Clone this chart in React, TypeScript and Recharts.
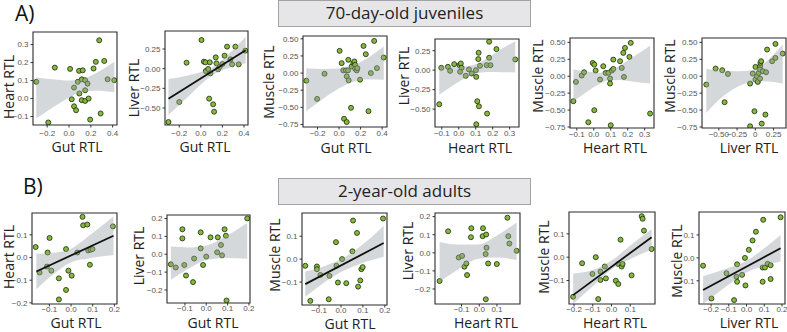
import React from 'react';
import { ComposedChart, Scatter, Area, Line, XAxis, YAxis, ReferenceArea } from 'recharts';

// ---- data: [x, y] points, [x, lo, hi] ribbons, [x, y] fit ends ----

// A) 70-day-old juveniles
const juvGutHeart = [[-0.30, 0.093], [-0.19, -0.133], [-0.13, 0.172], [0.01, 0.165], [0.025, -0.004], [0.046, 0.061], [0.046, -0.043], [0.065, -0.065], [0.08, 0.093], [0.092, 0.154], [0.095, 0.028], [0.117, 0.107], [0.126, 0.157], [0.117, -0.009], [0.148, -0.013], [0.148, 0.046], [0.148, 0.102], [0.17, 0.083], [0.18, 0.0], [0.194, -0.117], [0.225, 0.167], [0.246, 0.204], [0.277, 0.324], [0.29, -0.083], [0.323, 0.209], [0.354, 0.107], [0.415, 0.102]];
const juvGutHeartBand = [[-0.30, -0.111, 0.117], [-0.15, -0.05, 0.107], [0.0, 0.005, 0.10], [0.12, 0.036, 0.108], [0.25, 0.044, 0.142], [0.415, 0.036, 0.204]];

const juvGutLiver = [[-0.30, -0.678], [-0.2, -0.424], [-0.132, 0.076], [0.006, 0.364], [0.028, 0.089], [0.043, 0.081], [0.046, -0.03], [0.068, -0.004], [0.083, 0.081], [0.077, -0.381], [0.089, -0.059], [0.114, -0.453], [0.123, -0.547], [0.138, 0.144], [0.145, 0.068], [0.16, -0.008], [0.175, 0.025], [0.2, 0.059], [0.22, 0.165], [0.243, 0.28], [0.29, 0.055], [0.274, 0.119], [0.32, 0.28], [0.351, 0.055], [0.412, 0.229]];
const juvGutLiverBand = [[-0.30, -0.59, -0.13], [-0.12, -0.361, -0.087], [0.05, -0.142, -0.018], [0.12, -0.071, 0.029], [0.25, 0.004, 0.174], [0.415, 0.068, 0.407]];
const juvGutLiverFit = [[-0.30, -0.381], [0.415, 0.233]];

const juvGutMuscle = [[-0.304, -0.111], [-0.204, -0.377], [-0.135, -0.01], [0.005, 0.324], [0.024, 0.145], [0.039, 0.039], [0.064, 0.039], [0.083, 0.039], [0.071, -0.048], [0.089, -0.106], [0.086, 0.193], [0.117, 0.097], [0.133, 0.145], [0.142, 0.169], [0.149, 0.121], [0.149, 0.063], [0.164, 0.039], [0.17, 0.072], [0.195, -0.097], [0.227, 0.396], [0.248, 0.275], [0.295, 0.0], [0.326, 0.469], [0.351, 0.072], [0.414, 0.227], [0.111, -0.507], [0.046, -0.667], [0.071, -0.715], [0.273, -0.556]];
const juvGutMuscleBand = [[-0.305, -0.556, 0.072], [-0.15, -0.379, 0.061], [0.0, -0.223, 0.067], [0.12, -0.133, 0.107], [0.25, -0.092, 0.206], [0.415, -0.097, 0.387]];

const juvHeartLiver = [[-0.115, -0.438], [-0.103, 0.03], [-0.064, 0.043], [-0.051, -0.009], [-0.027, 0.077], [0.004, 0.064], [0.012, 0.086], [0.017, 0.03], [0.008, -0.021], [0.041, -0.073], [0.06, 0.009], [0.076, -0.043], [0.101, 0.0], [0.103, -0.086], [0.109, -0.399], [0.119, -0.464], [0.103, -0.695], [0.117, 0.223], [0.115, 0.142], [0.125, 0.056], [0.167, -0.558], [0.164, 0.064], [0.179, 0.159], [0.187, 0.064], [0.179, 0.365], [0.222, 0.27], [0.333, 0.137]];
const juvHeartLiverBand = [[-0.115, -0.315, 0.049], [-0.03, -0.191, 0.043], [0.04, -0.098, 0.048], [0.09, -0.05, 0.07], [0.17, -0.024, 0.156], [0.26, -0.026, 0.284], [0.333, -0.03, 0.37]];

const juvHeartMuscle = [[-0.12, -0.369], [-0.105, -0.084], [-0.071, 0.01], [-0.057, 0.059], [-0.032, -0.68], [-0.006, 0.197], [0.003, 0.172], [0.003, -0.502], [0.011, 0.084], [0.037, -0.049], [0.056, 0.148], [0.07, 0.049], [0.086, 0.049], [0.096, -0.034], [0.096, -0.108], [0.106, 0.084], [0.115, 0.108], [0.1, -0.724], [0.115, 0.246], [0.155, 0.222], [0.165, 0.123], [0.178, -0.01], [0.174, 0.345], [0.184, 0.419], [0.21, 0.286], [0.218, 0.493], [0.332, -0.552]];
const juvHeartMuscleBand = [[-0.12, -0.37, 0.10], [-0.04, -0.231, 0.069], [0.03, -0.119, 0.053], [0.08, -0.064, 0.066], [0.15, -0.055, 0.151], [0.24, -0.082, 0.30], [0.332, -0.108, 0.452]];

const juvLiverMuscle = [[-0.671, -0.123], [-0.544, 0.113], [-0.453, 0.089], [-0.421, -0.384], [-0.375, 0.034], [-0.071, -0.108], [-0.071, -0.739], [-0.012, -0.517], [-0.035, 0.039], [0.002, 0.138], [0.002, -0.049], [0.025, 0.0], [0.034, -0.084], [0.047, 0.049], [0.065, 0.148], [0.07, 0.197], [0.065, 0.099], [0.08, 0.222], [0.065, -0.034], [0.088, -0.70], [0.102, 0.074], [0.138, -0.567], [0.147, 0.059], [0.161, 0.394], [0.23, 0.222], [0.275, 0.271], [0.275, 0.478], [0.375, 0.335]];
const juvLiverMuscleBand = [[-0.671, -0.542, 0.108], [-0.45, -0.305, 0.089], [-0.25, -0.158, 0.074], [-0.05, -0.084, 0.089], [0.1, -0.074, 0.172], [0.25, -0.084, 0.32], [0.375, -0.108, 0.468]];

// B) 2-year-old adults
const adGutHeart = [[-0.163, 0.046], [-0.145, -0.066], [-0.111, -0.04], [-0.108, 0.022], [-0.099, 0.086], [-0.091, -0.058], [-0.056, -0.092], [-0.056, -0.185], [-0.023, 0.037], [-0.023, -0.143], [-0.012, -0.058], [0.003, -0.08], [0.029, 0.022], [0.053, 0.179], [0.056, 0.142], [0.075, 0.145], [0.079, 0.031], [0.087, -0.032], [0.09, 0.034], [0.099, 0.037], [0.193, 0.137]];
const adGutHeartBand = [[-0.16, -0.14, 0.016], [-0.08, -0.073, 0.021], [0.0, -0.021, 0.039], [0.08, -0.004, 0.094], [0.196, 0.011, 0.181]];
const adGutHeartFit = [[-0.16, -0.062], [0.196, 0.096]];

const adGutLiver = [[-0.166, -0.056], [-0.143, -0.074], [-0.112, 0.14], [-0.112, 0.089], [-0.103, -0.06], [-0.095, -0.119], [-0.062, -0.156], [-0.057, -0.024], [-0.026, 0.123], [-0.026, 0.033], [0.0, -0.013], [-0.015, -0.06], [0.02, 0.095], [0.054, 0.095], [0.051, 0.011], [0.069, 0.052], [0.074, -0.006], [0.086, 0.14], [0.092, 0.104], [0.095, -0.259], [0.192, 0.201]];
const adGutLiverBand = [[-0.166, -0.143, 0.043], [-0.08, -0.078, 0.038], [0.005, -0.03, 0.05], [0.09, -0.021, 0.099], [0.192, -0.025, 0.175]];

const adGutMuscle = [[-0.163, -0.029], [-0.14, -0.182], [-0.11, -0.032], [-0.11, -0.044], [-0.094, -0.069], [-0.053, -0.073], [-0.056, -0.175], [-0.023, 0.074], [-0.021, -0.029], [-0.014, -0.102], [0.005, 0.0], [0.024, -0.105], [0.052, 0.034], [0.055, 0.168], [0.073, 0.114], [0.078, -0.12], [0.088, -0.093], [0.093, -0.044], [0.099, -0.035], [0.192, 0.177]];
const adGutMuscleBand = [[-0.163, -0.164, -0.054], [-0.08, -0.104, -0.032], [0.0, -0.056, 0.0], [0.08, -0.023, 0.049], [0.195, 0.01, 0.145]];
const adGutMuscleFit = [[-0.163, -0.109], [0.195, 0.07]];

const adHeartLiver = [[-0.224, -0.156], [-0.176, 0.119], [-0.116, -0.026], [-0.097, -0.017], [-0.084, -0.077], [-0.073, -0.059], [-0.069, -0.123], [-0.045, 0.136], [-0.047, 0.086], [0.021, 0.136], [0.019, 0.092], [0.039, 0.101], [0.036, -0.007], [0.041, 0.028], [0.05, -0.059], [0.037, -0.257], [0.099, -0.062], [0.159, 0.194], [0.164, 0.092], [0.17, 0.051], [0.211, 0.011]];
const adHeartLiverBand = [[-0.224, -0.16, 0.06], [-0.12, -0.092, 0.046], [-0.01, -0.034, 0.046], [0.1, -0.026, 0.096], [0.211, -0.04, 0.168]];

const adHeartMuscle = [[-0.205, -0.17], [-0.157, -0.026], [-0.102, -0.072], [-0.084, 0.0], [-0.071, -0.18], [-0.059, -0.062], [-0.059, -0.098], [-0.036, -0.04], [-0.03, -0.091], [0.023, -0.101], [0.036, -0.115], [0.048, 0.075], [0.036, -0.029], [0.054, -0.04], [0.059, -0.029], [0.107, -0.078], [0.161, 0.176], [0.166, 0.165], [0.173, 0.114], [0.214, 0.035]];
const adHeartMuscleBand = [[-0.205, -0.2, -0.07], [-0.1, -0.125, -0.055], [-0.01, -0.058, -0.02], [0.1, -0.008, 0.05], [0.214, 0.032, 0.12]];
const adHeartMuscleFit = [[-0.205, -0.163], [0.214, 0.086]];

const adLiverMuscle = [[-0.245, -0.034], [-0.198, -0.177], [-0.113, -0.067], [-0.07, -0.184], [-0.057, -0.082], [-0.053, -0.028], [-0.053, -0.104], [-0.025, -0.074], [-0.009, 0.0], [-0.006, -0.12], [0.013, 0.035], [0.034, 0.076], [0.053, 0.114], [0.091, -0.104], [0.091, -0.042], [0.104, -0.042], [0.094, 0.166], [0.119, -0.026], [0.136, -0.032], [0.136, -0.092], [0.192, 0.177]];
const adLiverMuscleBand = [[-0.245, -0.2, -0.08], [-0.12, -0.128, -0.048], [-0.01, -0.067, -0.017], [0.09, -0.036, 0.036], [0.192, -0.016, 0.1]];
const adLiverMuscleFit = [[-0.245, -0.14], [0.192, 0.042]];

// ---- ticks and their labels ----
const ticksGutJ = [-0.2, 0, 0.2, 0.4];
const labelsGutJ = ['−0.2', '0.0', '0.2', '0.4'];
const ticksHeartJ = [-0.1, 0, 0.1, 0.2, 0.3];
const labelsHeartJ = ['−0.1', '0.0', '0.1', '0.2', '0.3'];
const ticksLiverJ = [-0.5, -0.25, 0, 0.25];
const labelsLiverJ = ['−0.50', '−0.25', '0.00', '0.25'];
const labelsLiverJx = ['−0.50', '−0.25', '0', '0.25'];
const ticksMuscleJ = [-0.75, -0.5, -0.25, 0, 0.25, 0.5];
const labelsMuscleJ = ['−0.75', '−0.50', '−0.25', '0.00', '0.25', '0.50'];

const ticksGutA = [-0.1, 0, 0.1, 0.2];
const labelsGutA = ['−0.1', '0.0', '0.1', '0.2'];
const ticksHeartAy = [-0.2, -0.1, 0, 0.1];
const labelsHeartAy = ['−0.2', '−0.1', '0.0', '0.1'];
const ticksLiverA = [-0.2, -0.1, 0, 0.1, 0.2];
const labelsLiverA = ['−0.2', '−0.1', '0.0', '0.1', '0.2'];
const ticksMuscleA = [-0.1, 0, 0.1];
const labelsMuscleA = ['−0.1', '0.0', '0.1'];
const ticksHeartAx4 = [-0.1, 0, 0.1];
const labelsHeartAx4 = ['−0.1', '0.0', '0.1'];
const ticksHeartAx5 = [-0.2, -0.1, 0, 0.1];
const labelsHeartAx5 = ['−0.2', '−0.1', '0.0', '0.1'];

// ---- layout ----
const panels = [
  { box: [33, 32, 117, 125], xd: [-0.33, 0.44], yd: [-0.147, 0.37], xt: ticksGutJ, xl: labelsGutJ, yt: [-0.1, 0, 0.1, 0.2, 0.3], yl: ['−0.1', '0.0', '0.1', '0.2', '0.3'], pts: juvGutHeart, band: juvGutHeartBand, fit: null, xTitle: 'Gut RTL', yTitle: 'Heart RTL', xT: [77, 142], yT: [9, 87], tm: 3 },
  { box: [165, 31, 248, 125], xd: [-0.332, 0.437], yd: [-0.716, 0.479], xt: ticksGutJ, xl: labelsGutJ, yt: ticksLiverJ, yl: labelsLiverJ, pts: juvGutLiver, band: juvGutLiverBand, fit: juvGutLiverFit, xTitle: 'Gut RTL', yTitle: 'Liver RTL', xT: [205, 142], yT: [134, 88], tm: 3 },
  { box: [303, 36, 387, 127], xd: [-0.335, 0.445], yd: [-0.787, 0.541], xt: ticksGutJ, xl: labelsGutJ, yt: ticksMuscleJ, yl: labelsMuscleJ, pts: juvGutMuscle, band: juvGutMuscleBand, fit: null, xTitle: 'Gut RTL', yTitle: 'Muscle RTL', xT: [346, 143], yT: [269, 82], tm: 1 },
  { box: [435, 39, 519, 127], xd: [-0.14, 0.355], yd: [-0.73, 0.40], xt: ticksHeartJ, xl: labelsHeartJ, yt: ticksLiverJ, yl: labelsLiverJ, pts: juvHeartLiver, band: juvHeartLiverBand, fit: null, xTitle: 'Heart RTL', yTitle: 'Liver RTL', xT: [480, 143], yT: [404, 76], tm: 1 },
  { box: [570, 38, 654, 128], xd: [-0.14, 0.355], yd: [-0.765, 0.565], xt: ticksHeartJ, xl: labelsHeartJ, yt: ticksMuscleJ, yl: labelsMuscleJ, pts: juvHeartMuscle, band: juvHeartMuscleBand, fit: null, xTitle: 'Heart RTL', yTitle: 'Muscle RTL', xT: [615, 143], yT: [538, 76], tm: 1 },
  { box: [702, 38, 786, 128], xd: [-0.73, 0.42], yd: [-0.765, 0.565], xt: ticksLiverJ, xl: labelsLiverJx, yt: ticksMuscleJ, yl: labelsMuscleJ, pts: juvLiverMuscle, band: juvLiverMuscleBand, fit: null, xTitle: 'Liver RTL', yTitle: 'Muscle RTL', xT: [749, 143], yT: [670, 76], tm: 1 },

  { box: [32, 213, 117, 304], xd: [-0.18, 0.212], yd: [-0.205, 0.196], xt: ticksGutA, xl: labelsGutA, yt: ticksHeartAy, yl: labelsHeartAy, pts: adGutHeart, band: adGutHeartBand, fit: adGutHeartFit, xTitle: 'Gut RTL', yTitle: 'Heart RTL', xT: [76, 318], yT: [9, 257], tm: 0 },
  { box: [167, 215, 250, 303], xd: [-0.184, 0.205], yd: [-0.273, 0.22], xt: ticksGutA, xl: labelsGutA, yt: ticksLiverA, yl: labelsLiverA, pts: adGutLiver, band: adGutLiverBand, fit: null, xTitle: 'Gut RTL', yTitle: 'Liver RTL', xT: [213, 318], yT: [139, 256], tm: 0 },
  { box: [302, 213, 387, 305], xd: [-0.178, 0.21], yd: [-0.2, 0.201], xt: ticksGutA, xl: labelsGutA, yt: ticksMuscleA, yl: labelsMuscleA, pts: adGutMuscle, band: adGutMuscleBand, fit: adGutMuscleFit, xTitle: 'Gut RTL', yTitle: 'Muscle RTL', xT: [350, 319], yT: [275, 255], tm: 0 },
  { box: [435, 213, 520, 304], xd: [-0.25, 0.23], yd: [-0.283, 0.22], xt: ticksHeartAx4, xl: labelsHeartAx4, yt: ticksLiverA, yl: labelsLiverA, pts: adHeartLiver, band: adHeartLiverBand, fit: null, xTitle: 'Heart RTL', yTitle: 'Liver RTL', xT: [486, 318], yT: [408, 251], tm: 0 },
  { box: [569, 212, 655, 304], xd: [-0.227, 0.232], yd: [-0.201, 0.194], xt: ticksHeartAx5, xl: labelsHeartAx5, yt: ticksMuscleA, yl: labelsMuscleA, pts: adHeartMuscle, band: adHeartMuscleBand, fit: adHeartMuscleFit, xTitle: 'Heart RTL', yTitle: 'Muscle RTL', xT: [615, 318], yT: [544, 257], tm: 0 },
  { box: [699, 212, 785, 304], xd: [-0.268, 0.217], yd: [-0.201, 0.2], xt: ticksLiverA, xl: labelsLiverA, yt: ticksMuscleA, yl: labelsMuscleA, pts: adLiverMuscle, band: adLiverMuscleBand, fit: adLiverMuscleFit, xTitle: 'Liver RTL', yTitle: 'Muscle RTL', xT: [749, 318], yT: [677, 261], tm: 0 },
];

const YW = 30;
const XH = 14;
const RM = 10;
const TITLE_FONT = '"Open Sans", "Noto Sans", sans-serif';
const TICK_FONT = '"Liberation Sans", Arial, sans-serif';

const fmt = (ticks: number[], labels: string[]) => (v: number) => {
  const i = ticks.findIndex((t) => Math.abs(t - v) < 1e-9);
  return i >= 0 ? labels[i] : '';
};

const Dot = (props: any) => (
  <circle cx={props.cx} cy={props.cy} r={2.5} fill="#84b93a" stroke="#1e2a12" strokeWidth={0.8} />
);

function Panel({ p }: { p: any }) {
  const [l, t, r, b] = p.box;
  const w = r - l;
  const h = b - t;
  const pts = p.pts.map(([x, y]: number[]) => ({ x, y }));
  const band = p.band.map(([x, lo, hi]: number[]) => ({ x, band: [lo, hi] }));
  const fit = p.fit ? p.fit.map(([x, y]: number[]) => ({ x, fit: y })) : null;
  const tick = { fontSize: 8, fill: '#555', fontFamily: TICK_FONT };
  return (
    <>
      <div style={{ position: 'absolute', left: l - YW, top: t - 1 }}>
        <ComposedChart width={YW + w + RM} height={h + 1 + XH} margin={{ top: 1, right: RM, bottom: 0, left: 0 }}>
          <XAxis
            type="number" dataKey="x" domain={p.xd} allowDataOverflow ticks={p.xt} interval={0}
            tickFormatter={fmt(p.xt, p.xl)} height={XH} axisLine={false}
            tickLine={{ stroke: '#333' }} tickSize={2.5} tickMargin={p.tm} tick={tick}
          />
          <YAxis
            type="number" domain={p.yd} allowDataOverflow ticks={p.yt} interval={0}
            tickFormatter={fmt(p.yt, p.yl)} width={YW} axisLine={false}
            tickLine={{ stroke: '#333' }} tickSize={2.5} tickMargin={2} tick={tick}
          />
          <Scatter data={pts} dataKey="y" shape={Dot} isAnimationActive={false} />
          <Area
            data={band} dataKey="band" type="monotone" stroke="none" fill="#9aa1a8"
            fillOpacity={0.42} isAnimationActive={false} zIndex={650}
          />
          {fit && (
            <Line
              data={fit} dataKey="fit" stroke="#111" strokeWidth={1.8} dot={false}
              isAnimationActive={false} zIndex={700}
            />
          )}
          <ReferenceArea x1={p.xd[0]} x2={p.xd[1]} y1={p.yd[0]} y2={p.yd[1]} fill="none" stroke="#2b2b2b" strokeWidth={1.1} ifOverflow="visible" zIndex={800} />
        </ComposedChart>
      </div>
      <div style={{ position: 'absolute', left: p.xT[0] - 50, top: p.xT[1] - 1, width: 100, textAlign: 'center', fontSize: 14, lineHeight: '12px', fontFamily: TITLE_FONT, color: '#222' }}>
        {p.xTitle}
      </div>
      <div style={{ position: 'absolute', left: p.yT[0] - 50, top: p.yT[1] - 6, width: 100, height: 12, textAlign: 'center', fontSize: 14, lineHeight: '12px', fontFamily: TITLE_FONT, color: '#222', transform: 'rotate(-90deg)' }}>
        {p.yTitle}
      </div>
    </>
  );
}

const boxStyle: React.CSSProperties = {
  position: 'absolute', left: 278, width: 253, height: 27, boxSizing: 'border-box',
  background: '#e6e6e9', border: '1.5px solid #a3a3a3', fontFamily: TITLE_FONT,
  fontSize: 17, lineHeight: '24px', textAlign: 'center', color: '#222',
};

export default function App() {
  return (
    <div style={{ position: 'absolute', left: 0, top: 0, width: 787, height: 332, background: '#fff', overflow: 'hidden' }}>
      <div style={{ position: 'absolute', left: 15, top: 3, fontSize: 21, lineHeight: '21px', fontFamily: TITLE_FONT, color: '#111' }}>A)</div>
      <div style={{ position: 'absolute', left: 23, top: 176, fontSize: 21, lineHeight: '21px', fontFamily: TITLE_FONT, color: '#111' }}>B)</div>
      <div style={{ ...boxStyle, top: 0 }}>70-day-old juveniles</div>
      <div style={{ ...boxStyle, top: 178 }}>2-year-old adults</div>
      {panels.map((p, i) => (
        <Panel key={i} p={p} />
      ))}
    </div>
  );
}
